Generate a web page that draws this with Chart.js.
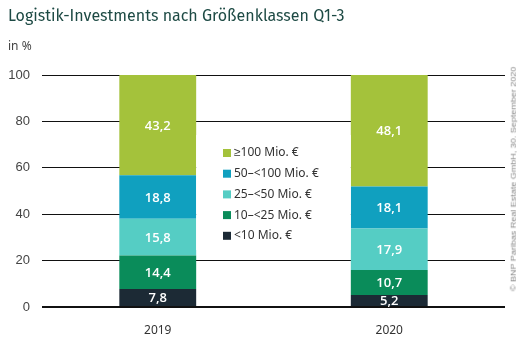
<!DOCTYPE html>
<html><head><meta charset="utf-8">
<script src="https://cdn.jsdelivr.net/npm/chart.js@4"></script>
<style>
html,body{margin:0;padding:0;background:#fff;}
#wrap{position:relative;width:520px;height:340px;overflow:hidden;}
#title{position:absolute;left:8px;top:6px;font-family:"Fira Sans","Noto Sans",sans-serif;font-size:16px;color:#1d4a44;white-space:nowrap;}
#sub{position:absolute;left:8px;top:37px;font-family:"Noto Sans",sans-serif;font-size:12px;color:#444;}
#copy{position:absolute;left:513px;top:179px;transform:translate(-50%,-50%) rotate(-90deg) scaleY(0.85);font-family:"Liberation Sans",sans-serif;font-size:9px;color:#888;white-space:nowrap;}
canvas{position:absolute;left:0;top:0;}
</style></head><body>
<div id="wrap">
<canvas id="c" width="520" height="340"></canvas>
<div id="title">Logistik-Investments nach Größenklassen Q1-3</div>
<div id="sub">in %</div>
<div id="copy">© BNP Paribas Real Estate GmbH, 30. September 2020</div>
</div>
<script>
const categories = ["2019", "2020"];
const seriesNames = ["<10 Mio. €", "10–<25 Mio. €", "25–<50 Mio. €", "50–<100 Mio. €", "≥100 Mio. €"];
const under10 = [7.8, 5.2];
const from10to25 = [14.4, 10.7];
const from25to50 = [15.8, 17.9];
const from50to100 = [18.8, 18.1];
const over100 = [43.2, 48.1];
const yTicks = [0, 20, 40, 60, 80, 100];
const colors = ["#1c2a35", "#0a8c5a", "#55cdc4", "#10a0bf", "#a4c23b"];

const seriesValues = [under10, from10to25, from25to50, from50to100, over100];

const valueLabels = {
  id: 'valueLabels',
  afterDatasetsDraw(chart) {
    const ctx = chart.ctx;
    ctx.save();
    ctx.font = '600 13px "Open Sans", sans-serif';
    ctx.fillStyle = '#fff';
    ctx.textAlign = 'center';
    ctx.textBaseline = 'middle';
    chart.data.datasets.forEach((ds, i) => {
      chart.getDatasetMeta(i).data.forEach((bar, j) => {
        const y = (bar.y + bar.base) / 2;
        ctx.fillText(ds.data[j].toFixed(1).replace('.', ','), bar.x, y + 1);
      });
    });
    ctx.restore();
  }
};

const customLegend = {
  id: 'customLegend',
  afterDraw(chart) {
    const ctx = chart.ctx;
    const m0 = chart.getDatasetMeta(0).data;
    ctx.save();
    const left = m0[0].x + m0[0].width / 2;
    const right = m0[1].x - m0[1].width / 2;
    ctx.fillStyle = '#fff';
    ctx.fillRect(left, 135, right - left, 115);
    ctx.font = '12px "Noto Sans", sans-serif';
    ctx.textBaseline = 'middle';
    ctx.textAlign = 'left';
    const x0 = 223, y0 = 153, step = 20.7;
    for (let k = 0; k < seriesNames.length; k++) {
      const idx = seriesNames.length - 1 - k;
      const y = y0 + k * step;
      ctx.fillStyle = colors[idx];
      ctx.fillRect(x0, y - 4, 8, 8);
      ctx.fillStyle = '#333';
      ctx.fillText(seriesNames[idx], x0 + 11, y);
    }
    ctx.restore();
  }
};

new Chart(document.getElementById('c'), {
  type: 'bar',
  data: {
    labels: categories,
    datasets: seriesValues.map((v, i) => ({
      label: seriesNames[i],
      data: v,
      backgroundColor: colors[i],
      borderWidth: 0,
      barPercentage: 0.332,
      categoryPercentage: 1
    }))
  },
  options: {
    responsive: false,
    animation: false,
    devicePixelRatio: 1,
    layout: { padding: { top: 75, right: 15, left: 0, bottom: 0 } },
    plugins: { legend: { display: false }, tooltip: { enabled: false }, title: { display: false } },
    scales: {
      x: {
        stacked: true,
        grid: { display: false },
        border: { display: false },
        ticks: { color: '#333', font: { family: '"Noto Sans", sans-serif', size: 12 }, padding: 8 },
        afterFit(s) { s.height = 33; }
      },
      y: {
        stacked: true,
        min: 0, max: 100,
        afterBuildTicks(s) { s.ticks = yTicks.map(v => ({ value: v })); },
        grid: {
          color: '#111',
          lineWidth: c => (c.tick && c.tick.value === 0 ? 2 : 1),
          drawTicks: false
        },
        border: { display: false },
        ticks: { color: '#444', font: { family: '"Liberation Sans", sans-serif', size: 13 }, padding: 12 },
        afterFit(s) { s.width = 42; }
      }
    }
  },
  plugins: [valueLabels, customLegend]
});
</script>
</body></html>
